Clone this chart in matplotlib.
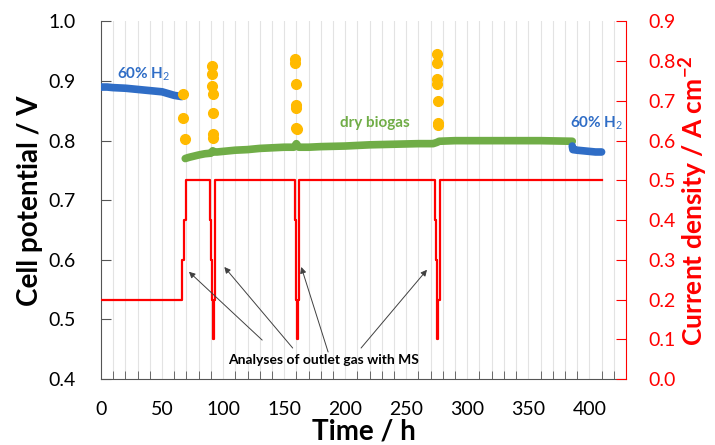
import numpy as np
import matplotlib.pyplot as plt

plt.rcParams['font.family'] = ['Lato', 'DejaVu Sans']
plt.rcParams['mathtext.fontset'] = 'custom'
plt.rcParams['mathtext.rm'] = 'Lato'
plt.rcParams['mathtext.bf'] = 'Lato:bold'

# cell potential, 60% H2 before biogas
h2a_t = [0, 5, 10, 20, 30, 40, 50, 55, 60, 63, 66]
h2a_v = [0.890, 0.890, 0.889, 0.888, 0.886, 0.884, 0.882, 0.879, 0.876, 0.875, 0.874]

# dry biogas
bio_t = [69, 72, 76, 80, 85, 90, 91.5, 93, 95, 100, 110, 120, 130, 140, 150, 158, 160, 162,
         170, 180, 200, 220, 240, 260, 272, 275, 277, 290, 300, 320, 340, 360, 386]
bio_v = [0.770, 0.772, 0.774, 0.776, 0.778, 0.779, 0.783, 0.781, 0.781, 0.782, 0.784, 0.785,
         0.787, 0.788, 0.789, 0.789, 0.795, 0.789, 0.789, 0.790, 0.791, 0.793, 0.794, 0.795,
         0.795, 0.797, 0.799, 0.800, 0.800, 0.800, 0.800, 0.800, 0.799]

# 60% H2 after biogas
h2b_t = [386, 386.5, 390, 395, 400, 405, 410]
h2b_v = [0.791, 0.785, 0.784, 0.783, 0.782, 0.781, 0.781]

# potential during MS analyses
ms_t = [67, 67.5, 68.5,
        91, 91, 91.2, 91.4, 91.6, 91.8, 92,
        159, 159.2, 159.4, 159.6, 159.8, 160, 160.2,
        275, 275.2, 275.4, 275.6, 275.8, 276, 276.2]
ms_v = [0.878, 0.838, 0.802,
        0.926, 0.912, 0.891, 0.878, 0.846, 0.812, 0.804,
        0.937, 0.930, 0.895, 0.860, 0.855, 0.822, 0.819,
        0.946, 0.930, 0.903, 0.895, 0.866, 0.829, 0.826]

# current density (steps)
cur_t = [0, 66.5, 68, 69.7, 89.3, 90.2, 91.0, 91.6, 92.2, 93.5,
         158.6, 159.4, 160.0, 160.4, 161.0, 162.0,
         273.6, 274.4, 275.2, 275.6, 276.2, 277.6, 410.5]
cur_j = [0.2, 0.3, 0.4, 0.5, 0.4, 0.3, 0.2, 0.1, 0.2, 0.5,
         0.4, 0.3, 0.2, 0.1, 0.2, 0.5,
         0.4, 0.3, 0.2, 0.1, 0.2, 0.5, 0.5]

blue = '#2F6DC6'
green = '#70AD47'
gold = '#FFBA00'
red = '#FF0000'

fig = plt.figure(figsize=(7.15, 4.45), dpi=100)
ax = fig.add_axes([0.1413, 0.1483, 0.7342, 0.8034])
ax2 = ax.twinx()

for x in range(10, 430, 10):
    ax.axvline(x, color='#e3e3e3', lw=0.8, zorder=0)

ax.plot(h2a_t, h2a_v, color=blue, lw=5.5, solid_capstyle='round', zorder=3)
ax.plot(bio_t, bio_v, color=green, lw=5.5, solid_capstyle='round', zorder=3)
ax.plot(h2b_t, h2b_v, color=blue, lw=5.5, solid_capstyle='round', zorder=3)
ax.plot(ms_t, ms_v, 'o', color=gold, ms=7, zorder=3)

ax2.plot(cur_t, cur_j, color=red, lw=1.6, drawstyle='steps-post')

ax.set_xlim(0, 430)
ax.set_ylim(0.4, 1.0)
ax2.set_ylim(0, 0.9)
ax.set_xticks(np.arange(0, 401, 50))
ax.set_xticks(np.arange(0, 431, 10), minor=True)
ax.set_yticks(np.arange(0.4, 1.01, 0.1))
ax2.set_yticks(np.arange(0, 0.91, 0.1))
ax.yaxis.set_major_formatter(plt.FormatStrFormatter('%.1f'))
ax2.yaxis.set_major_formatter(plt.FormatStrFormatter('%.1f'))

ax.tick_params(axis='x', which='major', direction='in', length=0, labelsize=14, pad=16)
ax.tick_params(axis='x', which='minor', direction='in', length=6, color='#555555')
ax.tick_params(axis='y', direction='in', length=7, color='#555555', labelsize=14, pad=18)
ax2.tick_params(axis='y', direction='in', length=7, color=red, labelcolor=red, labelsize=14, pad=16)

for s in ['top']:
    ax.spines[s].set_visible(False)
    ax2.spines[s].set_visible(False)
ax.spines['left'].set_color('#555555')
ax.spines['bottom'].set_color('#555555')
ax2.spines['left'].set_visible(False)
ax2.spines['bottom'].set_visible(False)
ax.spines['right'].set_visible(False)
ax2.spines['right'].set_color(red)

ax.set_xlabel('Time / h', fontsize=20, fontweight='bold', labelpad=0)
ax.set_ylabel('Cell potential / V', fontsize=20, fontweight='bold', labelpad=4)
ax2.set_ylabel(r'Current density / A cm$^{\mathbf{-2}}$', fontsize=19, fontweight='bold',
               color=red, labelpad=1)

ax.text(13, 0.905, r'60% H$_2$', color=blue, fontsize=11, fontweight='bold')
ax.text(224, 0.829, 'dry biogas', color=green, fontsize=11, fontweight='bold', ha='center',
        va='center')
ax.text(406, 0.822, r'60% H$_2$', color=blue, fontsize=11, fontweight='bold', ha='center')

ax2.text(182, 0.048, 'Analyses of outlet gas with MS', fontsize=10, fontweight='bold',
         ha='center', va='center')
arrows = [((132, 0.098), (72, 0.27)), ((157, 0.078), (101, 0.282)),
          ((186, 0.068), (164, 0.282)), ((213, 0.078), (267, 0.275))]
for tail, head in arrows:
    ax2.annotate('', xy=head, xytext=tail,
                 arrowprops=dict(arrowstyle='-|>', color='#404040', lw=0.7,
                                 mutation_scale=9, shrinkA=0, shrinkB=0))

plt.savefig('out.png', dpi=100)
